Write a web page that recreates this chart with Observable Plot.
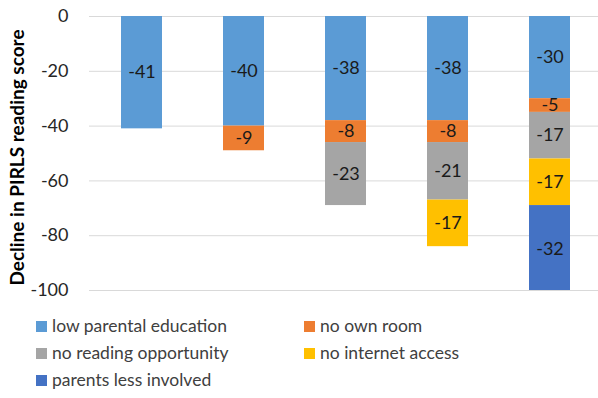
<!DOCTYPE html>
<html>
<head>
<meta charset="utf-8">
<script src="https://cdn.jsdelivr.net/npm/d3@7"></script>
<script src="https://cdn.jsdelivr.net/npm/@observablehq/plot@0.6"></script>
<style>
  html, body { margin: 0; padding: 0; background: #fff; }
  body { width: 598px; height: 398px; overflow: hidden; font-family: Lato, "Open Sans", sans-serif; }
  #chart svg { display: block; }
  #legend { position: relative; height: 98px; }
  .item { position: absolute; font-size: 17.5px; color: #404040; display: flex; align-items: center; white-space: nowrap; line-height: 24px; }
  .sw { width: 11px; height: 11px; margin-right: 5px; }
</style>
</head>
<body>
<div id="chart"></div>
<div id="legend"></div>
<script>
const groups = ["A", "B", "C", "D", "E"];
const series = ["low parental education", "no own room", "no reading opportunity", "no internet access", "parents less involved"];
const colors = ["#5B9BD5", "#ED7D31", "#A5A5A5", "#FFC000", "#4472C4"];
const lowParentalEducation = [-41, -40, -38, -38, -30];
const noOwnRoom = [null, -9, -8, -8, -5];
const noReadingOpportunity = [null, null, -23, -21, -17];
const noInternetAccess = [null, null, null, -17, -17];
const parentsLessInvolved = [null, null, null, null, -32];
const yTicks = [0, -20, -40, -60, -80, -100];
const yLabel = "Decline in PIRLS reading score";

const seriesValues = [lowParentalEducation, noOwnRoom, noReadingOpportunity, noInternetAccess, parentsLessInvolved];
const data = [];
groups.forEach((g, gi) => {
  series.forEach((s, si) => {
    const v = seriesValues[si][gi];
    if (v != null) data.push({group: g, series: s, value: v});
  });
});

const chart = Plot.plot({
  width: 598,
  height: 300,
  marginTop: 16,
  marginBottom: 10,
  marginLeft: 89,
  marginRight: 0,
  style: {fontFamily: "Lato, 'Open Sans', sans-serif", fontSize: "18px", color: "#262626", background: "#fff"},
  x: {domain: groups, range: [89, 601.5], paddingInner: 0.6, paddingOuter: 0.3, axis: null},
  y: {domain: [-100, 0], ticks: yTicks, tickFormat: d => String(d), tickSize: 0, tickPadding: 21, label: null},
  color: {domain: series, range: colors},
  marks: [
    Plot.ruleY(yTicks, {stroke: "#d9d9d9", strokeWidth: 1}),
    Plot.barY(data, Plot.stackY({x: "group", y: "value", z: "series", fill: "series", clip: true})),
    Plot.text(data, Plot.stackY({x: "group", y: "value", z: "series", text: d => String(d.value), fill: "#1a1a1a", fontSize: 18})),
    Plot.text([yLabel], {frameAnchor: "left", dx: -72, dy: 4, rotate: -90, textAnchor: "middle", lineAnchor: "middle", fontWeight: "bold", fontSize: 19, fill: "#000"})
  ]
});
document.getElementById("chart").appendChild(chart);

const legendPos = [[36, 26], [304, 26], [36, 53], [304, 53], [36, 80]];
const legend = document.getElementById("legend");
series.forEach((s, i) => {
  const el = document.createElement("div");
  el.className = "item";
  el.style.left = legendPos[i][0] + "px";
  el.style.top = (legendPos[i][1] - 12) + "px";
  const sw = document.createElement("span");
  sw.className = "sw";
  sw.style.background = colors[i];
  const t = document.createElement("span");
  t.textContent = s;
  el.appendChild(sw);
  el.appendChild(t);
  legend.appendChild(el);
});
</script>
</body>
</html>
